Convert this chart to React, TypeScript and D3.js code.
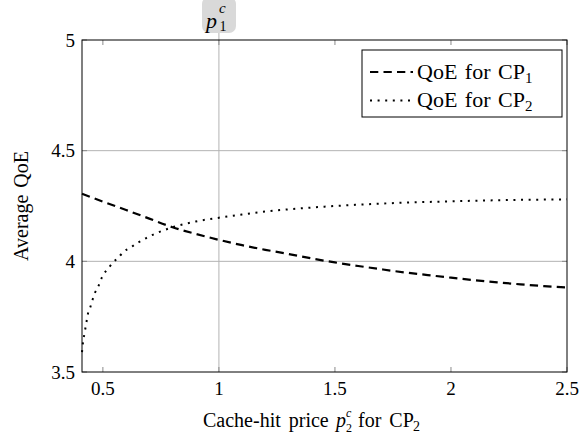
import React from "react";
import * as d3 from "d3";

const cp1X = [0.41, 0.5, 0.6, 0.7, 0.8, 0.9, 1.0, 1.1, 1.2, 1.3, 1.4, 1.5, 1.6, 1.7, 1.8, 1.9, 2.0, 2.1, 2.2, 2.3, 2.4, 2.5];
const cp1Y = [4.305, 4.27, 4.232, 4.193, 4.154, 4.124, 4.097, 4.073, 4.052, 4.033, 4.013, 3.995, 3.979, 3.964, 3.95, 3.938, 3.926, 3.915, 3.905, 3.896, 3.888, 3.882];

const cp2X = [0.41, 0.415, 0.42, 0.425, 0.43, 0.435, 0.445, 0.455, 0.465, 0.48, 0.49, 0.505, 0.525, 0.545, 0.57, 0.59, 0.62, 0.645, 0.675, 0.7, 0.73, 0.8, 0.9, 1.0, 1.1, 1.2, 1.3, 1.4, 1.5, 1.6, 1.8, 2.0, 2.2, 2.5];
const cp2Y = [3.59, 3.64, 3.67, 3.7, 3.73, 3.76, 3.79, 3.825, 3.856, 3.885, 3.914, 3.944, 3.971, 3.996, 4.021, 4.044, 4.063, 4.081, 4.098, 4.113, 4.127, 4.154, 4.18, 4.197, 4.212, 4.225, 4.235, 4.243, 4.25, 4.256, 4.265, 4.271, 4.276, 4.28];

const xTicks = [0.5, 1, 1.5, 2, 2.5];
const xTickLabels = ["0.5", "1", "1.5", "2", "2.5"];
const yTicks = [3.5, 4, 4.5, 5];
const yTickLabels = ["3.5", "4", "4.5", "5"];
const xGrid = [1];
const yGrid = [4, 4.5];

const FONT = "'Liberation Serif', 'Times New Roman', serif";
const DASH = "8.3 5.2";
const DOT = "2 5.6";

export default function App() {
  const W = 582, H = 435;
  const left = 82, right = 567, top = 40, bottom = 372;
  const x = d3.scaleLinear().domain([0.41, 2.5]).range([left, right]);
  const y = d3.scaleLinear().domain([3.5, 5]).range([bottom, top]);

  const line = d3.line<[number, number]>()
    .x((d) => x(d[0]))
    .y((d) => y(d[1]))
    .curve(d3.curveMonotoneX);

  const d1 = line(cp1X.map((v, i) => [v, cp1Y[i]]) as [number, number][]) || "";
  const d2 = line(cp2X.map((v, i) => [v, cp2Y[i]]) as [number, number][]) || "";

  const tickLen = 5;
  const gray = "#b3b3b3";

  return (
    <svg width={W} height={H} style={{ position: "absolute", left: 0, top: 0 }} fontFamily={FONT}>
      <rect x={0} y={0} width={W} height={H} fill="#fff" />
      {/* grid */}
      {yGrid.map((v) => (
        <line key={"yg" + v} x1={left} x2={right} y1={y(v)} y2={y(v)} stroke={gray} strokeWidth={1} />
      ))}
      {xGrid.map((v) => (
        <line key={"xg" + v} x1={x(v)} x2={x(v)} y1={30} y2={bottom} stroke={gray} strokeWidth={1} />
      ))}
      {/* ticks */}
      {xTicks.map((v) => (
        <g key={"xt" + v}>
          <line x1={x(v)} x2={x(v)} y1={bottom} y2={bottom - tickLen} stroke="#8a8a8a" strokeWidth={1} />
          <line x1={x(v)} x2={x(v)} y1={top} y2={top + tickLen} stroke="#8a8a8a" strokeWidth={1} />
        </g>
      ))}
      {yTicks.map((v) => (
        <g key={"yt" + v}>
          <line x1={left} x2={left + tickLen} y1={y(v)} y2={y(v)} stroke="#8a8a8a" strokeWidth={1} />
          <line x1={right} x2={right - tickLen} y1={y(v)} y2={y(v)} stroke="#8a8a8a" strokeWidth={1} />
        </g>
      ))}
      {/* curves */}
      <path d={d1} fill="none" stroke="#000" strokeWidth={2.2} strokeDasharray={DASH} />
      <path d={d2} fill="none" stroke="#000" strokeWidth={2} strokeDasharray={DOT} />
      {/* frame */}
      <rect x={left} y={top} width={right - left} height={bottom - top} fill="none" stroke="#000" strokeWidth={1} />
      {/* p1^c label */}
      <rect x={202} y={-3} width={34} height={36} rx={7} ry={7} fill="#d9d9d9" />
      <text x={206} y={28} fontSize={22} fontStyle="italic">p</text>
      <text x={219} y={13} fontSize={15} fontStyle="italic">c</text>
      <text x={219.5} y={31} fontSize={14}>1</text>
      {/* tick labels */}
      {xTicks.map((v, i) => (
        <text key={"xl" + v} x={x(v)} y={395} fontSize={19} textAnchor="middle">{xTickLabels[i]}</text>
      ))}
      {yTicks.map((v, i) => (
        <text key={"yl" + v} x={75} y={y(v) + 6.5} fontSize={19} textAnchor="end">{yTickLabels[i]}</text>
      ))}
      {/* x axis label */}
      <text x={203} y={427} fontSize={20} wordSpacing={3}>Cache-hit price</text>
      <text x={336} y={427} fontSize={20} fontStyle="italic">p</text>
      <text x={346} y={417} fontSize={12} fontStyle="italic">c</text>
      <text x={346} y={432} fontSize={12}>2</text>
      <text x={358} y={427} fontSize={20} wordSpacing={3}>for CP</text>
      <text x={413} y={431} fontSize={14}>2</text>
      {/* y axis label */}
      <text transform={`translate(28, ${(top + bottom) / 2}) rotate(-90)`} fontSize={20} textAnchor="middle" wordSpacing={2}>Average QoE</text>
      {/* legend */}
      <rect x={362} y={50} width={200} height={67} fill="#fff" stroke="#000" strokeWidth={1} />
      <line x1={370} x2={413} y1={72} y2={72} stroke="#000" strokeWidth={2.2} strokeDasharray={DASH} />
      <line x1={370} x2={413} y1={100.5} y2={100.5} stroke="#000" strokeWidth={2} strokeDasharray={DOT} />
      <text x={417} y={79} fontSize={22} wordSpacing={2}>
        QoE for CP<tspan fontSize={15} dy={4}>1</tspan>
      </text>
      <text x={417} y={107} fontSize={22} wordSpacing={2}>
        QoE for CP<tspan fontSize={15} dy={4}>2</tspan>
      </text>
    </svg>
  );
}
